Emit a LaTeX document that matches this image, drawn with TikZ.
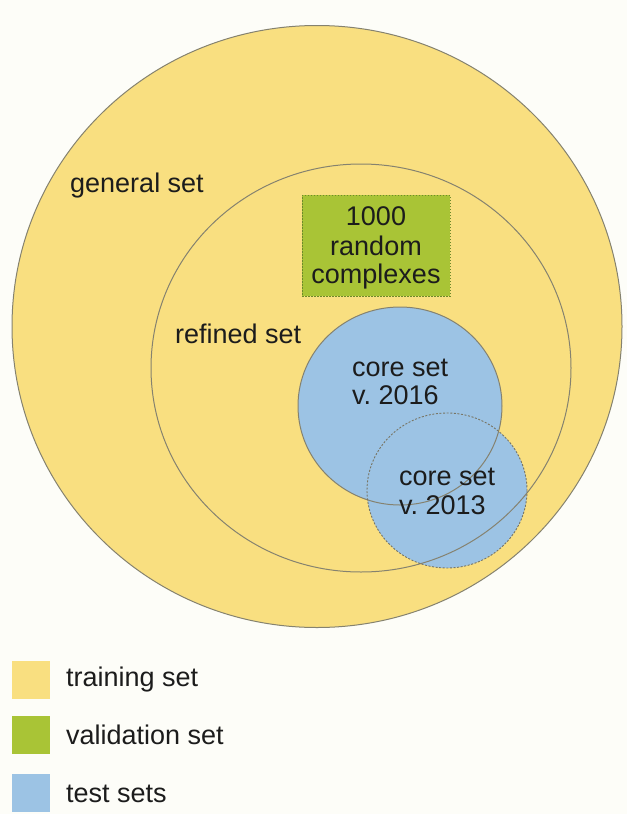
\documentclass[tikz,border=0pt]{standalone}
\usepackage{fontspec}
\setmainfont{Liberation Sans}
\frenchspacing
\definecolor{bgc}{HTML}{FDFDF8}
\definecolor{trainc}{HTML}{F9DF80}
\definecolor{valc}{HTML}{A9C436}
\definecolor{valline}{HTML}{6E8A2A}
\definecolor{testc}{HTML}{9CC3E4}
\definecolor{linec}{HTML}{85826F}
\definecolor{txtc}{HTML}{1C1C1C}
\tikzset{
  lbl/.style={anchor=base west, inner sep=0pt, text=txtc, font=\fontsize{27}{32}\selectfont},
  boxlbl/.style={anchor=base, inner sep=0pt, text=txtc, font=\fontsize{27}{32}\selectfont},
  outl/.style={draw=linec, line width=1pt},
  dotl/.style={draw=linec!90!black, line width=0.9pt, dash pattern=on 2pt off 1.6pt},
  swatch/.style={inner sep=0pt, anchor=north west, minimum width=38pt, minimum height=38pt}
}
\begin{document}
\begin{tikzpicture}[x=1pt,y=-1pt]
\fill[bgc] (0,0) rectangle (627,814);
\useasboundingbox (0,0) rectangle (627,814);
% general set
\fill[trainc] (317,326.5) ellipse [x radius=305, y radius=301];
\draw[outl] (317,326.5) ellipse [x radius=305, y radius=301];
% validation box
\node[fill=valc, draw=valline, line width=0.8pt, dash pattern=on 1.5pt off 1.5pt, minimum width=148pt, minimum height=101pt, inner sep=0pt] (valbox) at (376,245.5) {};
% test set fills
\fill[testc] (400,406) ellipse [x radius=102, y radius=99];
\fill[testc] (447,490.5) ellipse [x radius=80, y radius=77.5];
% outlines
\draw[outl] (361,368) ellipse [x radius=210, y radius=204];
\draw[outl] (400,406) ellipse [x radius=102, y radius=99];
\draw[dotl] (447,490.5) ellipse [x radius=80, y radius=77.5];
% labels
\node[lbl] (general) at (70,192) {general set};
\node[lbl] (refined) at (175,343) {refined set};
\node[boxlbl] (v1) at (376,225) {1000};
\node[boxlbl] (v2) at (376,255) {random};
\node[boxlbl] (v3) at (376,283) {complexes};
\node[lbl] (c16a) at (352,376) {core set};
\node[lbl] (c16b) at (352,404) {v. 2016};
\node[lbl] (c13a) at (399,485) {core set};
\node[lbl] (c13b) at (399,514) {v. 2013};
% legend
\node[swatch, fill=trainc] (sw1) at (12,661) {};
\node[swatch, fill=valc] (sw2) at (12,716) {};
\node[swatch, fill=testc] (sw3) at (12,774) {};
\node[lbl] (l1) at (66,686) {training set};
\node[lbl] (l2) at (66,744) {validation set};
\node[lbl] (l3) at (66,802) {test sets};
\end{tikzpicture}
\end{document}
